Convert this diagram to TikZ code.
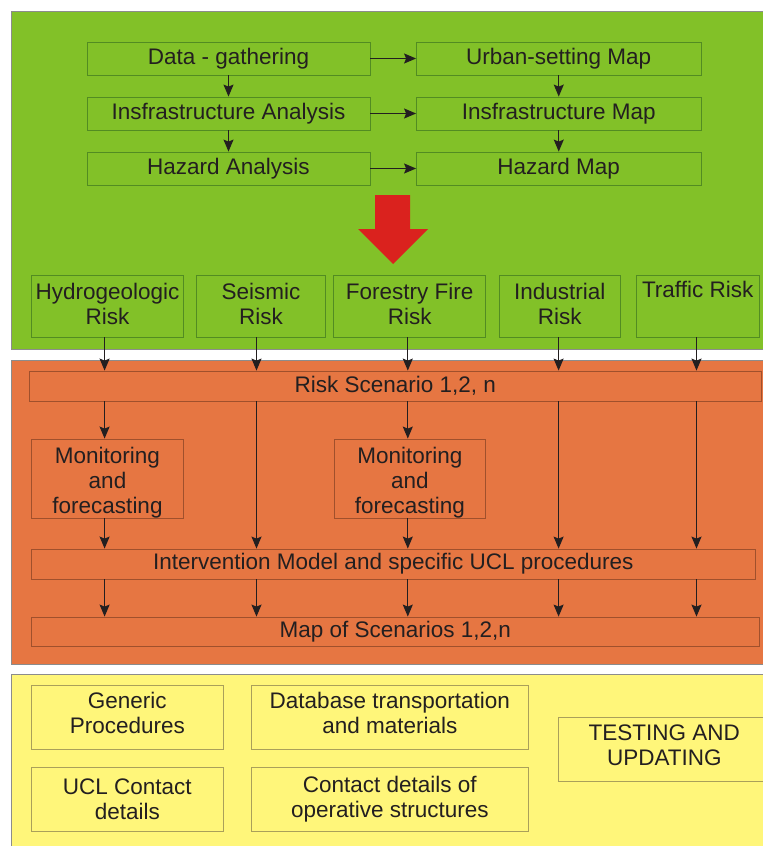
\documentclass[tikz,border=0pt]{standalone}
\usepackage{fontspec}
\setmainfont{Liberation Sans}
\usetikzlibrary{arrows.meta}

\definecolor{panelgreen}{RGB}{130,193,40}
\definecolor{edgegreen}{RGB}{82,140,34}
\definecolor{panelorange}{RGB}{230,118,66}
\definecolor{edgeorange}{RGB}{160,80,44}
\definecolor{panelyellow}{RGB}{255,246,122}
\definecolor{edgeyellow}{RGB}{170,160,90}
\definecolor{arrowred}{RGB}{218,34,30}
\definecolor{ink}{RGB}{35,31,32}
\definecolor{panelrim}{RGB}{140,140,140}

% invisible struts that push a text block up or down inside its box
\newcommand{\lowpad}[1]{\rule[-#1]{0pt}{#1}}
\newcommand{\highpad}[1]{\rule{0pt}{#1}}

\tikzset{
  panel/.style={draw=panelrim, line width=0.8pt},
  basebox/.style={rectangle, inner sep=0pt, align=center, text=ink,
    line width=0.8pt, font=\fontsize{22.5}{25}\selectfont},
  gbox/.style={basebox, draw=edgegreen},
  obox/.style={basebox, draw=edgeorange},
  ybox/.style={basebox, draw=edgeyellow},
  conn/.style={draw=ink, line width=1.2pt,
    -{Stealth[length=12pt,width=10pt,inset=2pt]}},
}

\begin{document}
\begin{tikzpicture}[x=1pt,y=-1pt]
\useasboundingbox (0,0) rectangle (763,846);
\begin{scope}
\clip (0,0) rectangle (763,846);
\fill[white] (0,0) rectangle (763,846);

% three background bands
\draw[panel, fill=panelgreen]  (11.5,11)  rectangle (790,349);
\draw[panel, fill=panelorange] (11.5,360) rectangle (790,664);
\draw[panel, fill=panelyellow] (11.5,674) rectangle (790,900);

% analysis chain
\node[gbox, minimum width=283pt, minimum height=33pt] (data)  at (228.5,58.5)  {Data - gathering};
\node[gbox, minimum width=283pt, minimum height=33pt] (infra) at (228.5,113.5) {Insfrastructure Analysis};
\node[gbox, minimum width=283pt, minimum height=33pt] (haz)   at (228.5,168.5) {Hazard Analysis};
\node[gbox, minimum width=284.5pt, minimum height=33pt] (urban)  at (558.75,58.5)  {Urban-setting Map};
\node[gbox, minimum width=284.5pt, minimum height=33pt] (infmap) at (558.75,113.5) {Insfrastructure Map};
\node[gbox, minimum width=284.5pt, minimum height=33pt] (hazmap) at (558.75,168.5) {Hazard Map};

\draw[conn] (data.south)  -- (infra.north);
\draw[conn] (infra.south) -- (haz.north);
\draw[conn] (urban.south) -- (infmap.north);
\draw[conn] (infmap.south) -- (hazmap.north);
\draw[conn] (data.east)  -- (urban.west);
\draw[conn] (infra.east) -- (infmap.west);
\draw[conn] (haz.east)   -- (hazmap.west);

% big red block arrow
\fill[arrowred] (375,195) -- (410,195) -- (410,229) -- (428,229) -- (393,264)
  -- (358,229) -- (375,229) -- cycle;

% risk categories
\node[gbox, minimum width=152pt, minimum height=62pt] (hyd) at (107.5,306) {Hydrogeologic\\Risk\lowpad{5pt}};
\node[gbox, minimum width=129pt, minimum height=62pt] (sei) at (261,306) {Seismic\\Risk\lowpad{5pt}};
\node[gbox, minimum width=152pt, minimum height=62pt] (for) at (409.7,306) {Forestry Fire\\Risk\lowpad{5pt}};
\node[gbox, minimum width=121pt, minimum height=62pt] (ind) at (559.7,306) {Industrial\\Risk\lowpad{5pt}};
\node[gbox, minimum width=123pt, minimum height=62pt] (tra) at (697.7,306) {Traffic Risk\\\strut};

% column lines for the vertical flow
\coordinate (c1) at (104.6,0);
\coordinate (c2) at (256.5,0);
\coordinate (c3) at (407.8,0);
\coordinate (c4) at (558.6,0);
\coordinate (c5) at (696.5,0);

% scenario stage
\node[obox, minimum width=732.5pt, minimum height=30pt] (scen) at (395.25,386) {Risk Scenario 1,2, n};
\node[obox, minimum width=152pt, minimum height=79pt] (mon1) at (107.5,478.5) {\highpad{24pt}Monitoring\\and\\forecasting};
\node[obox, minimum width=151.6pt, minimum height=79pt] (mon2) at (409.8,478.5) {\highpad{24pt}Monitoring\\and\\forecasting};
\node[obox, minimum width=723.4pt, minimum height=30pt] (interv) at (393.3,564) {Intervention Model and specific UCL procedures};
\node[obox, minimum width=727.4pt, minimum height=29pt] (mapsc) at (395.3,631.5) {Map of Scenarios 1,2,n};

\draw[conn] (c1 |- hyd.south) -- (c1 |- scen.north);
\draw[conn] (c2 |- sei.south) -- (c2 |- scen.north);
\draw[conn] (c3 |- for.south) -- (c3 |- scen.north);
\draw[conn] (c4 |- ind.south) -- (c4 |- scen.north);
\draw[conn] (c5 |- tra.south) -- (c5 |- scen.north);

\draw[conn] (c1 |- scen.south) -- (c1 |- mon1.north);
\draw[conn] (c3 |- scen.south) -- (c3 |- mon2.north);
\draw[conn] (c2 |- scen.south) -- (c2 |- interv.north);
\draw[conn] (c4 |- scen.south) -- (c4 |- interv.north);
\draw[conn] (c5 |- scen.south) -- (c5 |- interv.north);
\draw[conn] (c1 |- mon1.south) -- (c1 |- interv.north);
\draw[conn] (c3 |- mon2.south) -- (c3 |- interv.north);

\foreach \c in {c1,c2,c3,c4,c5}
  \draw[conn] (\c |- interv.south) -- (\c |- mapsc.north);

% supporting resources
\node[ybox, minimum width=191.4pt, minimum height=64pt] (gen)  at (127.3,717) {Generic\\Procedures\lowpad{8pt}};
\node[ybox, minimum width=276.4pt, minimum height=64pt] (dbase) at (389.8,717) {Database transportation\\and materials\lowpad{8pt}};
\node[ybox, minimum width=191.4pt, minimum height=64pt] (ucl)  at (127.3,799) {UCL Contact\\details};
\node[ybox, minimum width=276.4pt, minimum height=64pt] (opst) at (389.8,799) {Contact details of\\operative structures};
\node[ybox, minimum width=211.4pt, minimum height=64pt] (test) at (664.3,749)
  {TESTING AND\\UPDATING\lowpad{7pt}};
\end{scope}
\end{tikzpicture}
\end{document}
